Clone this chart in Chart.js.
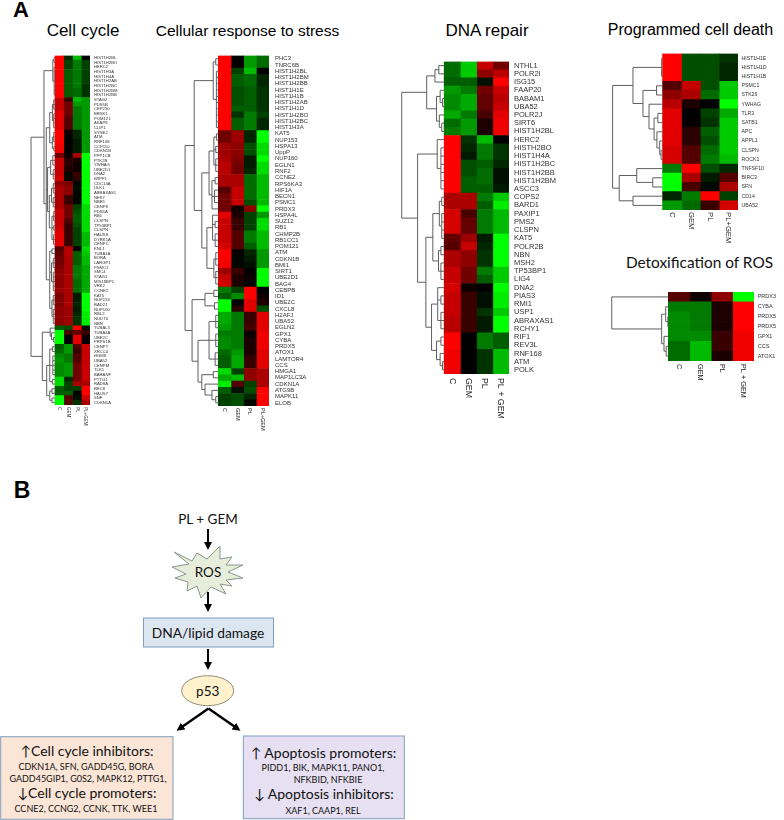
<!DOCTYPE html>
<html>
<head>
<meta charset="utf-8">
<script src="https://cdn.jsdelivr.net/npm/chart.js@4"></script>
<style>
  html, body { margin: 0; padding: 0; background: #fff; }
  #page { position: relative; width: 784px; height: 820px; overflow: hidden; }
  #page canvas { position: absolute; filter: blur(0.35px); }
  #sketch { position: absolute; left: 0; top: 0; }
  #sketch .head { font-family: "Liberation Sans", Arial, sans-serif; fill: #000; text-anchor: middle; }
  #sketch .cal { font-family: Lato, "Open Sans", sans-serif; fill: #111; text-anchor: middle; }
</style>
</head>
<body>
<div id="page">
<svg id="sketch" width="784" height="820">
  <defs>
    <marker id="tip" markerWidth="9" markerHeight="9" refX="5" refY="4" orient="auto" markerUnits="userSpaceOnUse">
      <path d="M0,0 L8,4 L0,8 Z" fill="#000"/>
    </marker>
  </defs>
  <text class="head" x="21" y="17" font-size="22" font-weight="bold">A</text>
  <text class="head" x="22" y="498" font-size="23" font-weight="bold">B</text>
  <text class="head" x="83" y="36" font-size="17">Cell cycle</text>
  <text class="head" x="247.5" y="35.5" font-size="15.5">Cellular response to stress</text>
  <text class="head" x="487" y="36" font-size="17">DNA repair</text>
  <text class="head" x="690.5" y="34.5" font-size="16">Programmed cell death</text>
  <text class="cal" x="699.5" y="268" font-size="15.4">Detoxification of ROS</text>

  <text class="cal" x="208" y="524" font-size="13.5">PL + GEM</text>
  <g stroke="#000" stroke-width="2" fill="none">
    <line x1="208" y1="529" x2="208" y2="547" marker-end="url(#tip)"/>
    <line x1="208" y1="592" x2="208" y2="609" marker-end="url(#tip)"/>
    <line x1="208" y1="649" x2="208" y2="667" marker-end="url(#tip)"/>
    <line x1="208.5" y1="708.5" x2="179" y2="729" marker-end="url(#tip)" stroke-width="2.4"/>
    <line x1="208.5" y1="708.5" x2="238" y2="729" marker-end="url(#tip)" stroke-width="2.4"/>
  </g>
  <polygon points="174,552 192,561 197,553 207,559 220,546 220,559 232,557 226,565 243,565 228,572 243,578 226,580 232,586 220,584 226,594 211,587 201,598 197,586 187,591 188,582 175,578 186,574 172,567 189,564" fill="#e6eedb" stroke="#8c968c" stroke-width="1"/>
  <text class="cal" x="208" y="576.5" font-size="13.5">ROS</text>
  <rect x="143.5" y="618" width="130" height="29" fill="#dce6f1" stroke="#7f9dbd" stroke-width="1"/>
  <text class="cal" x="208" y="637.5" font-size="13.8">DNA/lipid damage</text>
  <ellipse cx="207.7" cy="690.7" rx="26" ry="15" fill="#fff2cc" stroke="#8d8d78" stroke-width="1"/>
  <text class="cal" x="207.7" y="695.5" font-size="13.5">p53</text>

  <rect x="0.7" y="736.7" width="172.3" height="82.6" fill="#fbe5d6" stroke="#7f9dbd" stroke-width="1"/>
  <text class="cal" x="87" y="755.5" font-size="14">↑Cell cycle inhibitors:</text>
  <text class="cal" x="86" y="769.5" font-size="9">CDKN1A, SFN,  GADD45G, BORA</text>
  <text class="cal" x="88" y="781.5" font-size="9">GADD45GIP1, G0S2, MAPK12,  PTTG1,</text>
  <text class="cal" x="87" y="798" font-size="14">↓Cell cycle promoters:</text>
  <text class="cal" x="86" y="811.5" font-size="9">CCNE2, CCNG2, CCNK,  TTK, WEE1</text>

  <rect x="243.3" y="736" width="161" height="82.7" fill="#e6e0f2" stroke="#7f9dbd" stroke-width="1"/>
  <text class="cal" x="323.5" y="757.5" font-size="14">↑ Apoptosis promoters:</text>
  <text class="cal" x="323" y="771" font-size="9">PIDD1, BIK, MAPK11,  PANO1,</text>
  <text class="cal" x="328" y="783" font-size="9">NFKBID, NFKBIE</text>
  <text class="cal" x="324" y="799" font-size="14">↓ Apoptosis inhibitors:</text>
  <text class="cal" x="323" y="813.5" font-size="9">XAF1,  CAAP1, REL</text>
</svg>
</div>

<script>
const cycleGenes = ['HIST1H2BL','HIST1H2BO','HERC2','HIST1H3A','HIST1H4A','HIST1H2AB','HIST1H2BC','HIST1H2BM','HIST1H2BB','STAG2','PDS5B','CEP250','BRSK1','POM121','AKAP8','CLIP1','SYNE2','ATM','RNF168','CCP110','CDKN1B','PPP1CB','PTK2B','YWHAG','UBE2D1','DNA2','WIPF1','CDC14A','ULK1','ABRAXAS1','NEK7','NBR1','CENPK','PDS5A','RB1','CLSPN','TP53BP1','CLSPN','HAUS8','DYRK1A','CENPC','KNL1','TUBA1A','BORA','LARGP1','PSMC1','SMC4','STAG1','MIS18BP1','VRK2','CCNE2','KAT5','NUP153','RAD21','NUP160','RBL2','NUDT6','NBN','TUBAL3','TUBA4A','UBE2C','PRPS1B','CENPT','XRCC4','HGMK','UBA52','CENPM','TLK1','BARANF','PTTG1','RAD9A','REC8','HAUS7','SNF','CDKN1A'];
const cycleC = [9,9,9,9,9,9,9,9,9,7,7,7,8,8,8,8,9,9,9,8.5,8.5,4,7,7,7,7,7.5,5,6,6,6,6,6,7,7,7,7,7.5,8,8,8,3,3.5,4,4,4.5,5,5,5,5,5.5,4.5,4.5,4.5,5,5,5,5,-4,-9.5,-9.5,-9.5,-4,-4.5,-5.5,-6,-5.5,-5.5,-5.5,-8,-8,-4,-4,-9,-9];
const cycleGem = [-2,-3,-3,-4,-4,-4,-4,-4,-4,2,4,4,4,3,3,3,.5,.3,0,.3,0,.5,1.5,1.5,1,-.3,-.5,4.5,5,5,2,2,4,4,4,3,2,2,2,2,2,6.5,6.5,6,6,6,6,6,6,6,6,6,6,6,5.5,5.5,5.5,5.5,-3.5,2.5,0,0,-6,-6,-5,-5,-6,-6,-6,-2,-3,-3,-4,3,3];
const cyclePl = [-7,-5,-5,-5,-5,-5,-5,-4.5,-4.5,-7,-6,-5,-5,-5,-5,-5,-2,-2,-1.5,-1.5,-1.5,6,1,.5,.5,2,1.5,-.5,-1,-.5,-.5,-.5,-3,-3.5,-4,-4,-3.5,-3,-3,-3,-3,0,-4,-4,-4,-5,-5,-5,-4.5,-4.5,-4.5,-1.5,-1.5,-2,-1.5,-2,-2.5,-2.5,9,3.5,8,8,3,2,3,3,4,4,4,4,6,-3,0,-1,-2.5];
const cyclePlGem = [0,-3,-3,-3,-3,-3,-2.5,-2.5,-2.5,-6,-6,-6,-6,-6,-6,-6,-6,-6,-6,-6,-6,-9,-9,-9,-9,-9,-9,-9,-9,-9,-9,-9,-8,-8,-8,-8,-8,-8,-7,-7,-7,-8,-7.5,-7,-7,-6.5,-6.5,-6.5,-6.5,-6.5,-6.5,-9,-9,-9,-9,-8.5,-8.5,-8.5,-1,2,.5,0,7,7,7,7,7,7,7,7,6,9,9,7,6];
const cycleTree = [2.74,
  [1.26,
    [0.25, [0.12,0,1], [0.1,2,3,4,5,6,7,8]],
    [1.0,
      [0.6, [0.3,[0.15,9,10,11],[0.15,12,13,14,15]], [0.3,[0.15,16,17,18],[0.12,19,20]]],
      [0.85,
        [0.5, [0.25,21,22,23], [0.2,24,25,26]],
        [0.65, [0.4,[0.2,27,28,29],[0.2,30,31,32]], [0.35,[0.15,33,34,35],[0.15,36,37],[0.18,38,39,40]]]],
      [0.6, [0.35,41,42], [0.4,[0.2,43,44,45],[0.2,46,47,48,49,50]], [0.35,[0.2,51,52,53],[0.2,54,55,56,57]]]]],
  [1.45,
    [0.55, 58, [0.4,59,[0.15,60,61]]],
    [0.95,
      [0.6, [0.3,62,63], [0.25,64,65,66,67,68], [0.3,69,70]],
      [0.6, [0.35,71,72], [0.35,73,74]]]]];

const stressGenes = ['PHC3','TNRC6B','HIST1H2BL','HIST1H2BM','HIST1H2BB','HIST1H1E','HIST1H1B','HIST1H2AB','HIST1H1D','HIST1H2BO','HIST1H2BC','HIST1H3A','KAT5','NUP153','HSPA13','UppP','NUP160','EGLN1','RNF2','CCNE2','RPS6KA3','HIF1A','BECN1','PSMC1','PRDX3','HSPA4L','SUZ12','RB1','CHMP2B','RB1CC1','POM121','ATM','CDKN1B','BMI1','SIRT1','UBE2D1','BAG4','CEBPB','ID1','UBE2C','CXCL8','H2AFJ','UBA52','EGLN2','GPX1','CYBA','PRDX5','ATOX1','LAMTOR4','CCS','HMGA1','MAP1LC3A','CDKN1A','ATG9B','MAPK11','ELOB'];
const stressC = [9,9,9,9,9,9,9,9,9,9,9,9,4,4,5.5,5.5,6,6.5,6.5,6,6,3,4,4,4,8,7,7,7,7,7.5,9,9,8.5,5.5,7,7.5,-5,-4,-9,-9,-6.5,-6.5,-6,-5,-5.5,-5.5,-4.5,-4,-4,-8,-6.5,-8.5,-4,-3,-3];
const stressGem = [0,.2,-3,-4,-4,-3.5,-3.5,-3.5,-4,-2.5,-4,-4,5.5,5.5,5,5,4.5,4,4,6,6,7,7,7,.5,1,2,2,3,3,3,.2,-.5,-.5,2,1,1,-3,-5.5,0,1.5,-5,-5,-5,-5,-5,-5,-6,-6.5,-6.5,-3,-7,3,-1,-3.5,-3.5];
const stressPl = [-6,-6,-7,-4.5,-4.5,-4,-4,-4,-4,-5,-5,-5,-2,-2,-3.5,-3.5,-1.5,-1.5,-2,-4.5,-4.5,-4.5,-4.5,-3.5,5,-3,-3,-3,-5,-5,-4,-2,-1.5,-1,0,.5,-.5,9,9,8,8,2,2,2.5,.5,1,1,1,2,2,5,5,-3,-3.5,-2,-.5];
const stressPlGem = [-4.5,-4.5,0,-2,-2,-2.5,-2.5,-2.5,-2.5,-3,-2,-2,-9,-9,-8,-8,-9,-8,-8,-7,-7,-7,-7,-7,-10,-6,-8,-8,-7,-7,-7,-6,-6,-6,-9.5,-9.5,-9,0,.5,1,-3.5,8,8,8,8.5,8.5,8.5,8,8,8,6,6,6,9,9,9];
const stressTree = [2.62,
  [1.9,
    [0.4, [0.2,0,1], [0.15,2,3,4,5,6,7,8,9,10,11]],
    [1.3,
      [0.73, [0.35,[0.15,12,13],[0.2,14,15],[0.2,16,17,18]], [0.5,[0.25,19,20],[0.3,21,22,23],24]],
      [0.9, [0.45,25,[0.25,26,27],[0.25,28,29,30]], [0.35,[0.2,31,32,33],[0.2,34,35,36]]]]],
  [2.07,
    [1.05, [0.35,37,38], [0.3,39,40]],
    [1.6,
      [0.73, [0.2,41,42,43], [0.2,44,45,46], [0.25,47,48,49]],
      [1.3, [0.4,50,51], [1.05,52,[0.5,53,[0.2,54,55]]]]]]];

const dnaGenes = ['NTHL1','POLR2I','ISG15','FAAP20','BABAM1','UBA52','POLR2J','SIRT6','HIST1H2BL','HERC2','HISTH2BO','HIST1H4A','HIST1H2BC','HIST1H2BB','HIST1H2BM','ASCC3','COPS2','BARD1','PAXIP1','PMS2','CLSPN','KAT5','POLR2B','NBN','MSH2','TP53BP1','LIG4','DNA2','PIAS3','RMI1','USP1','ABRAXAS1','RCHY1','RIF1','REV3L','RNF168','ATM','POLK'];
const dnaC = [-4.5,-4.5,-4,-6,-5.5,-5.5,-6.5,-4.5,-5,9,9,9,9,9,9,9,6,6,7.5,7.5,7.5,3.5,3,6,6,7,7,7.5,7,7,7,6.5,6.5,9,9,8.5,8.5,8.5];
const dnaGem = [-7.5,-7.5,-4,-5,-6.5,-6.5,-5,-6,-6,-2.5,-2,-1.5,-3.5,-3.5,-4,-4,6,6,2.5,3.5,3.5,5.5,7,5,5,4,4,.5,2,2,2,2,2,0,0,0,0,0];
const dnaPl = [7,5,-1,4,3.5,3.5,2.5,1,1,-7,-5,-5,-4,-4.5,-4.5,-4,-5,-4,-5,-5,-5,-1.5,-2,-2.5,-2.5,-5,-4,0,-1,-1,-2.5,-1.5,-1.5,-5,-5,-2.5,-2.5,-2.5];
const dnaPlGem = [4,6.5,9,7,6.5,7,8,8.5,8.5,0,-2.5,-2.5,-2,-1,-1,-1.5,-7.5,-8.5,-7,-7,-7,-9,-9,-9,-9,-7.5,-7.5,-9,-8.5,-8.5,-7.5,-9,-9,-4,-4,-7,-7,-7];
const dnaTree = [2.62,
  [1.08,
    [0.57, [0.33,0,1], 2],
    [0.47, [0.25,3,[0.1,4,5]], [0.3,6,[0.15,7,8]]]],
  [1.64,
    [0.43, 9, [0.2,10,11,12,13,14,15]],
    [1.13,
      [0.7, [0.3,[0.15,16,17],[0.15,18,19,20,21]], [0.35,[0.2,22,23],[0.2,24,25,26]]],
      [0.78, [0.4,27,[0.2,28,29],[0.2,30,31,32]], [0.47,[0.2,33,34],[0.25,35,[0.1,36,37]]]]]]];

const deathGenes = ['HIST1H1E','HIST1H1D','HIST1H1B','PSMC1','STK26','YWHAG','TLR3','SATB1','APC','APPL1','CLSPN','ROCK1','TNFSF10','BIRC3','SFN','CD14','UBA52'];
const deathC = [9,9,9,3,5,6.5,8,8,8,8,7.5,7.5,-5,-9.5,-9.5,-2,-6];
const deathGem = [-3.5,-3.5,-3.5,7,6,1,0,.2,1.5,1.5,3,3,9,6,2.5,-5,-4.5];
const deathPl = [-3.5,-3.5,-3.5,-3.5,-4.5,0,-3,-2.5,-4,-3.5,-4.5,-5,-3.5,-1.5,-.7,9,2];
const deathPlGem = [-2.5,-2,-2,-7.5,-7.5,-9.5,-6.5,-7.5,-7.5,-7.5,-7.5,-7,-2,3,6,-3,7.5];
const deathTree = [2.65,
  [1.57,
    [0.05, 0, 1, 2],
    [1.04,
      [0.32, 3, 4],
      [0.72, 5, [0.45, [0.25,6,7], [0.3,8,[0.15,9,[0.08,10,11]]]]]]],
  [2.3,
    [1.37, 12, [0.52,13,14]],
    [1.57, 15, 16]]];

const detoxGenes = ['PRDX3','CYBA','PRDX5','PRDX5','GPX1','CCS','ATOX1'];
const detoxC = [3,-5,-5.5,-5.5,-5.5,-4.5,-4.5];
const detoxGem = [.5,-5,-5,-5,-5.5,-7,-7];
const detoxPl = [5,1,1,1,2,2,1];
const detoxPlGem = [-10,9,9,9,8.5,8.5,8.5];
const detoxTree = [2.64,
  0,
  [0.31, [0.12,1,[0.02,2,3]], [0.2,4,[0.1,5,6]]]];

const shortCols = ['C','GEM','PL','PL+GEM'];
const spacedCols = ['C','GEM','PL','PL + GEM'];

// heat box is where the cells sit on the page, everything else hangs off it
const panels = [
  { genes: cycleGenes, cols: shortCols, values: [cycleC, cycleGem, cyclePl, cyclePlGem], tree: cycleTree,
    heat: [55, 90, 51.7, 404.5], dendro: 2.74, labelW: 40, labelGap: 4, labelFont: 4.2, colFont: 4.5, colGap: 2, colRoom: 30 },
  { genes: stressGenes, cols: shortCols, values: [stressC, stressGem, stressPl, stressPlGem], tree: stressTree,
    heat: [218.3, 269, 48, 405.7], dendro: 2.62, labelW: 50, labelGap: 6, labelFont: 6, colFont: 5.5, colGap: 2, colRoom: 40 },
  { genes: dnaGenes, cols: spacedCols, values: [dnaC, dnaGem, dnaPl, dnaPlGem], tree: dnaTree,
    heat: [444.3, 509.3, 54, 374.3], dendro: 2.62, labelW: 55, labelGap: 5, labelFont: 7.5, colFont: 8.8, colGap: 4, colRoom: 50 },
  { genes: deathGenes, cols: shortCols, values: [deathC, deathGem, deathPl, deathPlGem], tree: deathTree,
    heat: [662.7, 738.3, 49, 210], dendro: 2.65, labelW: 40, labelGap: 3.5, labelFont: 5.2, colFont: 7.7, colGap: 2, colRoom: 50 },
  { genes: detoxGenes, cols: spacedCols, values: [detoxC, detoxGem, detoxPl, detoxPlGem], tree: detoxTree,
    heat: [668.3, 754, 287.7, 361], dendro: 2.64, labelW: 28, labelGap: 3.7, labelFont: 5.5, colFont: 7.3, colGap: 3, colRoom: 50 }
];

function heatColor(v) {
  const share = Math.min(1, Math.abs(v) / 9);
  // greens in the picture fall off faster than the reds
  return v >= 0 ? `rgb(${Math.round(share * 255)},0,0)` : `rgb(0,${Math.round(Math.pow(share, 1.25) * 255)},0)`;
}

// tree nodes are [height, child, child...], a plain number is a row
const dendroPlugin = {
  id: 'dendro',
  afterDraw(chart, args, opts) {
    const { ctx, scales: { x, y } } = chart;
    ctx.save();
    ctx.strokeStyle = '#5f5f5f';
    ctx.lineWidth = 1;
    function walk(node) {
      if (typeof node === 'number') return { px: x.getPixelForValue(0), py: y.getPixelForValue(node) };
      const px = x.getPixelForValue(-node[0]);
      const kids = node.slice(1).map(walk);
      ctx.beginPath();
      kids.forEach(k => { ctx.moveTo(px, k.py); ctx.lineTo(k.px, k.py); });
      ctx.moveTo(px, kids[0].py);
      ctx.lineTo(px, kids[kids.length - 1].py);
      ctx.stroke();
      return { px, py: (kids[0].py + kids[kids.length - 1].py) / 2 };
    }
    walk(opts.tree);
    ctx.restore();
  }
};

// chart.js tips labels the wrong way for top-to-bottom text, so they go in here
const columnLabels = {
  id: 'columnLabels',
  afterDraw(chart, args, opts) {
    const { ctx, chartArea, scales: { x } } = chart;
    ctx.save();
    ctx.fillStyle = '#222';
    ctx.font = `${opts.size}px "Liberation Sans", Arial, sans-serif`;
    ctx.textAlign = 'left';
    ctx.textBaseline = 'middle';
    opts.labels.forEach((name, i) => {
      ctx.save();
      ctx.translate(x.getPixelForValue(i + 0.5), chartArea.bottom + opts.gap);
      ctx.rotate(Math.PI / 2);
      ctx.fillText(name, 0, 0);
      ctx.restore();
    });
    ctx.restore();
  }
};

const page = document.getElementById('page');

panels.forEach(p => {
  const [left, right, top, bottom] = p.heat;
  const colW = (right - left) / 4;
  const canvasLeft = Math.floor(left - p.dendro * colW) - 2;
  const canvasTop = Math.floor(top) - 2;
  const wrap = document.createElement('div');
  wrap.style.cssText = `position:absolute;left:${canvasLeft}px;top:${canvasTop}px;` +
    `width:${Math.round(right - canvasLeft + p.labelW)}px;height:${Math.round(bottom - canvasTop + p.colRoom)}px;`;
  const canvas = document.createElement('canvas');
  wrap.appendChild(canvas);
  page.appendChild(wrap);

  new Chart(canvas.getContext('2d'), {
    type: 'bar',
    data: {
      labels: p.genes,
      datasets: p.values.map((col, i) => ({
        label: p.cols[i],
        data: col.map(() => 1),
        backgroundColor: col.map(heatColor),
        borderWidth: 0,
        barPercentage: 1,
        categoryPercentage: 1
      }))
    },
    options: {
      indexAxis: 'y',
      responsive: true,
      maintainAspectRatio: false,
      animation: false,
      layout: { padding: { left: 0, top: top - canvasTop, bottom: p.colRoom, right: 0 } },
      plugins: {
        legend: { display: false },
        tooltip: { enabled: false },
        dendro: { tree: p.tree },
        columnLabels: { labels: p.cols, size: p.colFont, gap: p.colGap }
      },
      scales: {
        x: {
          stacked: true,
          min: -(left - canvasLeft) / colW,
          max: 4,
          display: false
        },
        y: {
          stacked: true,
          position: 'right',
          afterFit(scale) { scale.width = p.labelW; },
          grid: { display: false, drawTicks: false },
          border: { display: false },
          ticks: {
            autoSkip: false,
            padding: p.labelGap,
            color: '#333',
            font: { family: '"Liberation Sans", Arial, sans-serif', size: p.labelFont }
          }
        }
      }
    },
    plugins: [dendroPlugin, columnLabels]
  });
});
</script>
</body>
</html>
